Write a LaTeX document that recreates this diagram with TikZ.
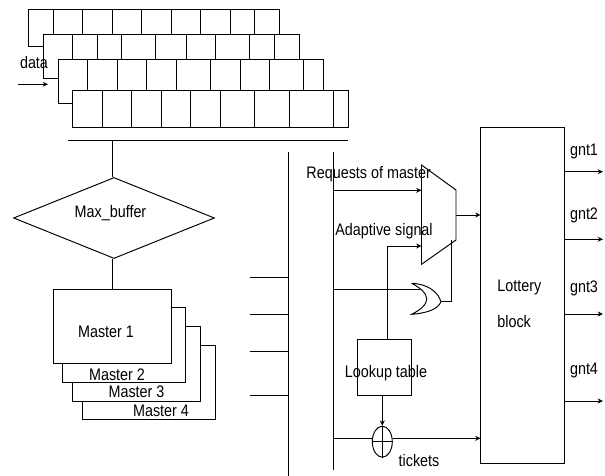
\documentclass[tikz,border=0pt]{standalone}
\usepackage{fontspec}
\setmainfont[FakeStretch=0.86]{Liberation Sans}
\usetikzlibrary{arrows.meta, calc, shapes.geometric}
\tikzset{
  >={Stealth[length=3pt, width=2.8pt]},
  every picture/.style={line cap=butt, line join=miter, font=\fontsize{9.5}{11}\selectfont},
  wire/.style={line width=0.55pt},
  cell/.style={line width=0.55pt, fill=white},
  block/.style={draw, line width=0.55pt, fill=white, inner sep=0pt, outer sep=0pt},
  lbl/.style={inner sep=0pt},
}

\begin{document}
\begin{tikzpicture}[x=0.02cm, y=-0.02cm]
  \useasboundingbox (0,0) rectangle (605,476);
  % ---- buffer rows, back to front
  \foreach \rl/\rt/\rr/\rb/\cuts in {
    28.5/9.5/279/46.7/{53,82.5,112,141,171,200,230,254.5},
    43/34/299/78/{72.5,97.5,121.5,155.5,186,215,249.5,274.5},
    58/59/323/103/{87.5,117,146.5,176,210,240,269.5,303.5},
    72.5/90.5/348/127.5/{102,131.5,161,190.5,220,254.5,289,333}}
  {
    \draw[cell] (\rl,\rt) rectangle (\rr,\rb);
    \foreach \c in \cuts { \draw[wire] (\c,\rt) -- (\c,\rb); }
  }
  \node[lbl] (data) at (34,63) {data};
  \coordinate (datain) at (18,84.3);
  \coordinate (dataout) at (48,84.3);
  \draw[wire, ->] (datain) -- (dataout);
  % ---- bus under the rows
  \coordinate (busl) at (67.5,140.5);
  \coordinate (busr) at (348,140.5);
  \coordinate (bustap) at (112.5,140.5);
  \draw[wire] (busl) -- (busr);
  % ---- decision and master stack
  \node[draw, wire, diamond, aspect=2.5, inner sep=0pt, minimum width=4.02cm, minimum height=1.62cm] (maxbuf) at (114,218) {};
  \node[lbl] (maxlbl) at (110.5,213.3) {Max\_buffer};
  \draw[wire] (bustap) -- (bustap |- maxbuf.north);
  \node[block, minimum width=2.65cm, minimum height=1.49cm] (master4) at (148.75,382.5) {};
  \node[block, minimum width=2.56cm, minimum height=1.49cm] (master3) at (136.5,364) {};
  \node[block, minimum width=2.46cm, minimum height=1.49cm] (master2) at (124.1,345.2) {};
  \node[block, minimum width=2.36cm, minimum height=1.49cm] (master1) at (112,326.6) {};
  \draw[wire] (bustap |- maxbuf.south) -- (bustap |- master1.north);
  \node[lbl] (m1lbl) at (106,332) {Master 1};
  \node[lbl] (m2lbl) at (117,375) {Master 2};
  \node[lbl] (m3lbl) at (136.5,392) {Master 3};
  \node[lbl] (m4lbl) at (161,410.5) {Master 4};
  % ---- the two vertical lines and the ticks
  \coordinate (vatop) at (288.7,152);
  \coordinate (vabot) at (288.7,476);
  \coordinate (vbtop) at (333,152);
  \coordinate (vbbot) at (333,470);
  \draw[wire] (vatop) -- (vabot);
  \draw[wire] (vbtop) -- (vbbot);
  \foreach \ty in {277,314.3,351.7,395} {
    \coordinate (tick) at (249.5,\ty);
    \draw[wire] (tick) -- (tick -| vatop);
  }
  % ---- lottery block and grants
  \node[block, minimum width=1.67cm, minimum height=6.72cm] (lottery) at (522.25,295.4) {};
  \node[lbl, anchor=west] (lotlbl) at (497,287.7) {Lottery};
  \node[lbl, anchor=west] (blklbl) at (497,321.7) {block};
  \foreach \gy/\ly/\gn in {171.7/151/1,239.3/215/2,314/288/3,401/370/4} {
    \node[lbl] (gnt\gn) at (584,\ly) {gnt\gn};
    \coordinate (gout\gn) at (603,\gy);
    \draw[wire, ->] (lottery.east |- gout\gn) -- (gout\gn);
  }
  % ---- mux
  \coordinate (muxa) at (421.5,165);
  \coordinate (muxb) at (456,190);
  \coordinate (muxc) at (456,240);
  \coordinate (muxd) at (421.5,264.3);
  \coordinate (muxout) at (456,215);
  \coordinate (muxreq) at (421.5,190.3);
  \coordinate (muxada) at (421.5,246);
  \draw[wire] (muxa) -- (muxb) -- (muxc) -- (muxd) -- cycle;
  \draw[wire, ->] (vbtop |- muxreq) -- (muxreq);
  \draw[wire, ->] (muxout) -- (lottery.west |- muxout);
  \node[lbl] (reqlbl) at (368.7,174.3) {Requests of master};
  \node[lbl] (adalbl) at (384,230.7) {Adaptive signal};
  % ---- or gate
  \coordinate (ortop) at (411.7,283.3);
  \coordinate (orbot) at (411.7,314.3);
  \coordinate (orout) at (441,301.7);
  \coordinate (orin) at (420,289.3);
  \coordinate (orup) at (451.3,240);
  \draw[wire] (ortop) .. controls (428,284) and (438,292) .. (orout)
    .. controls (438,309) and (428,313) .. (orbot)
    .. controls (431.7,304) and (431.7,294) .. (ortop);
  \draw[wire] (vbtop |- orin) -- (orin);
  \draw[wire] (orout) -| (orup);
  % ---- lookup table and adder
  \node[block, fill=none, minimum width=1.09cm, minimum height=1.12cm] (lookup) at (384.5,367) {};
  \node[lbl] (looklbl) at (386,373) {Lookup table};
  \coordinate (adaup) at (387,246);
  \draw[wire] (lookup.north -| adaup) -- (adaup);
  \draw[wire, ->] (adaup) -- (muxada);
  \node[draw, wire, ellipse, inner sep=0pt, minimum width=0.4cm, minimum height=0.62cm] (adder) at (382.3,441.7) {};
  \draw[wire] (adder.north) -- (adder.south) (adder.west) -- (adder.east);
  \draw[wire, ->] (adder.north |- lookup.south) -- (adder.north);
  \coordinate (tin) at (333,438.3);
  \draw[wire] (tin) -- (tin -| adder.west);
  \draw[wire, ->] (tin -| adder.east) -- (lottery.west |- tin);
  \node[lbl] (ticklbl) at (419,460.7) {tickets};
\end{tikzpicture}
\end{document}
